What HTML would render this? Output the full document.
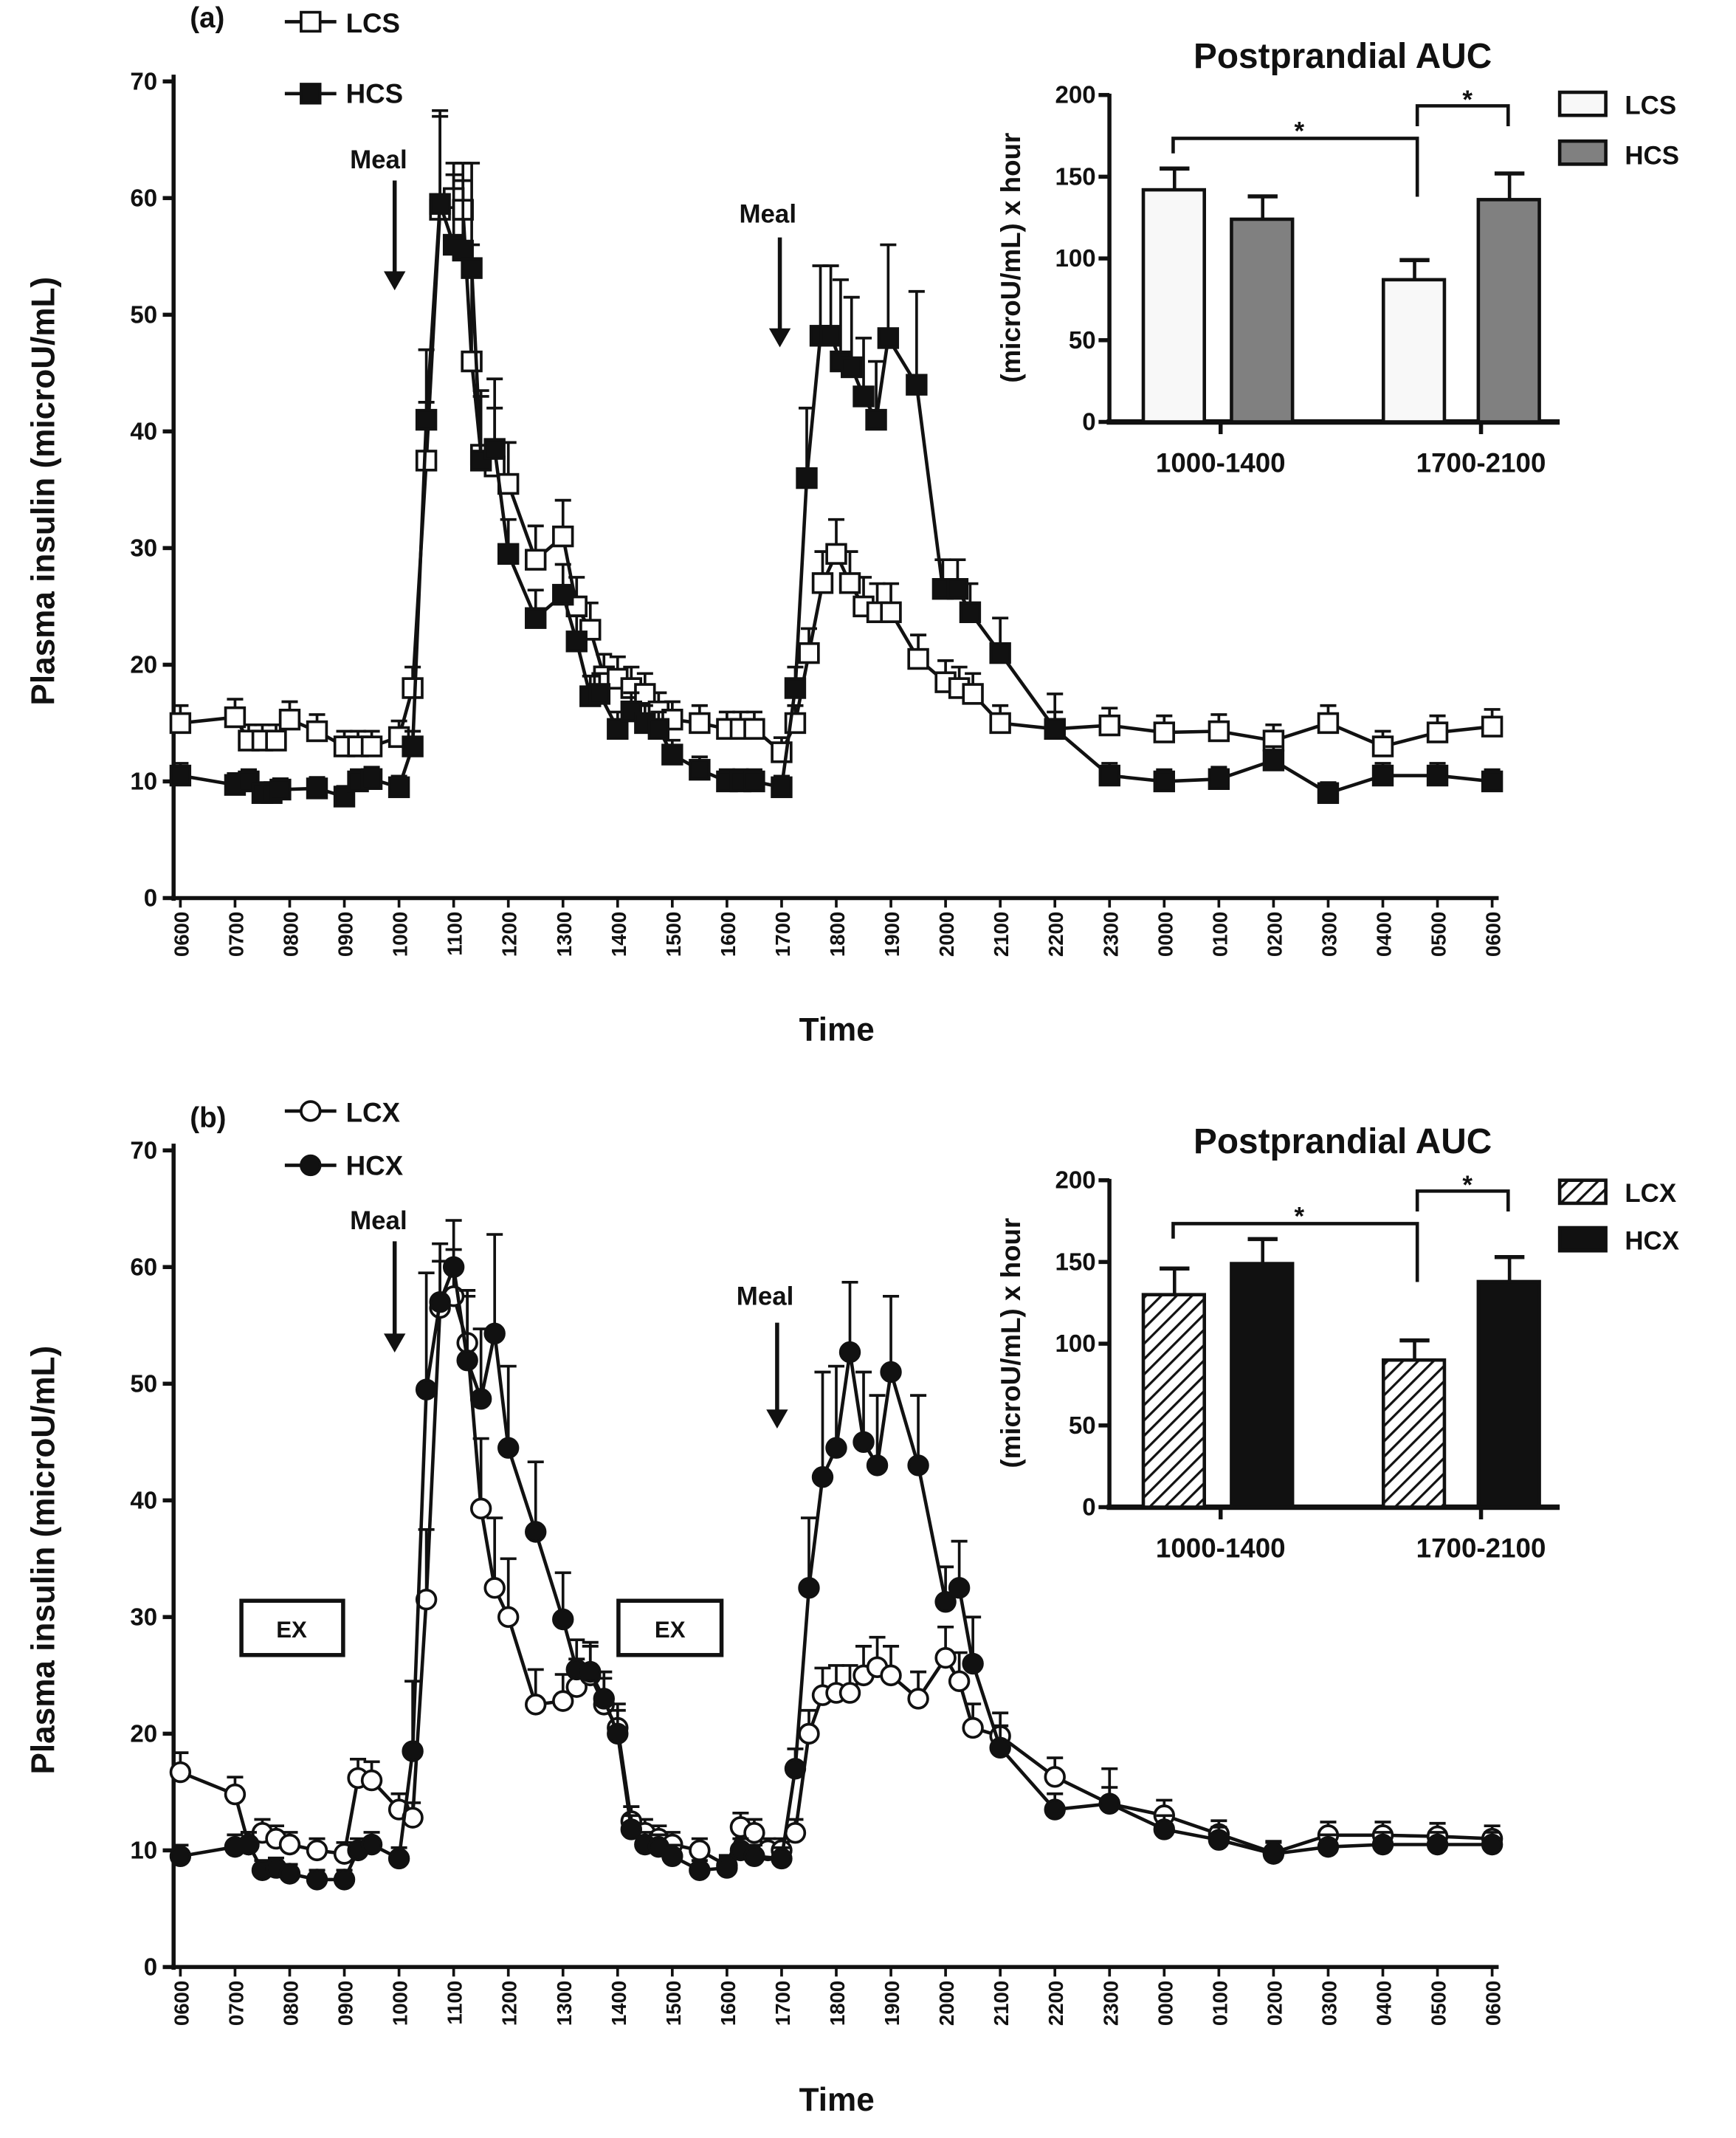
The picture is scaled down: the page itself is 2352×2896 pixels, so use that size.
<!DOCTYPE html>
<html><head><meta charset="utf-8"><style>
html,body{margin:0;padding:0;background:#fff}
svg{display:block}
text{font-family:"Liberation Sans",sans-serif;font-weight:bold;fill:#111}
</style></head><body>
<svg id="s" width="2352" height="2896" viewBox="0 0 1280 1576" xmlns="http://www.w3.org/2000/svg">
<rect width="1280" height="1576" fill="#fff"/>
<g id="g"></g>
<text x="140" y="20" font-size="21">(a)</text>
<text x="255" y="24" font-size="20">LCS</text>
<text x="255" y="76" font-size="20">HCS</text>
<text x="258" y="124" font-size="19">Meal</text>
<text x="545" y="164" font-size="19">Meal</text>
<text x="617" y="767" font-size="24" text-anchor="middle">Time</text>
<text transform="translate(40,362) rotate(-90)" font-size="24" text-anchor="middle">Plasma insulin (microU/mL)</text>
<text x="990" y="50" font-size="26" text-anchor="middle">Postprandial AUC</text>
<text transform="translate(752,190) rotate(-90)" font-size="20" text-anchor="middle">(microU/mL) x hour</text>
<text x="900" y="348" font-size="20" text-anchor="middle">1000-1400</text>
<text x="1092" y="348" font-size="20" text-anchor="middle">1700-2100</text>
<text x="1198" y="84" font-size="19">LCS</text>
<text x="1198" y="121" font-size="19">HCS</text>
<text x="958" y="103" font-size="19" text-anchor="middle">*</text>
<text x="1082" y="80" font-size="19" text-anchor="middle">*</text>
<text x="140" y="831" font-size="21">(b)</text>
<text x="255" y="827" font-size="20">LCX</text>
<text x="255" y="866" font-size="20">HCX</text>
<text x="258" y="906" font-size="19">Meal</text>
<text x="543" y="962" font-size="19">Meal</text>
<text x="617" y="1556" font-size="24" text-anchor="middle">Time</text>
<text transform="translate(40,1150) rotate(-90)" font-size="24" text-anchor="middle">Plasma insulin (microU/mL)</text>
<text x="990" y="850" font-size="26" text-anchor="middle">Postprandial AUC</text>
<text transform="translate(752,990) rotate(-90)" font-size="20" text-anchor="middle">(microU/mL) x hour</text>
<text x="900" y="1148" font-size="20" text-anchor="middle">1000-1400</text>
<text x="1092" y="1148" font-size="20" text-anchor="middle">1700-2100</text>
<text x="1198" y="886" font-size="19">LCX</text>
<text x="1198" y="921" font-size="19">HCX</text>
<text x="958" y="903" font-size="19" text-anchor="middle">*</text>
<text x="1082" y="880" font-size="19" text-anchor="middle">*</text>
<rect x="178" y="1180" width="75" height="40" fill="#fff" stroke="#111" stroke-width="3"/>
<text x="215" y="1207" font-size="17" text-anchor="middle">EX</text>
<rect x="456" y="1180" width="76" height="40" fill="#fff" stroke="#111" stroke-width="3"/>
<text x="494" y="1207" font-size="17" text-anchor="middle">EX</text>
<g id="ticks"></g>
</svg>
<script>
const NS="http://www.w3.org/2000/svg";const g=document.getElementById('g');const tk=document.getElementById('ticks');
function el(t,a,p){const e=document.createElementNS(NS,t);for(const k in a)e.setAttribute(k,a[k]);(p||g).appendChild(e);return e;}
const X=h=>133+40.3*(h-6);
function panel(y0,sA,sB,shape){
 const Y=v=>y0-8.6*v;
 el('line',{x1:128,y1:Y(0)+2,x2:128,y2:Y(70)-5,stroke:'#111','stroke-width':3});
 el('line',{x1:126,y1:Y(0),x2:1105,y2:Y(0),stroke:'#111','stroke-width':3});
 for(let v=0;v<=70;v+=10){el('line',{x1:120,y1:Y(v),x2:128,y2:Y(v),stroke:'#111','stroke-width':3});
  const t=el('text',{x:116,y:Y(v)+6,'font-size':18,'text-anchor':'end'},tk);t.textContent=v;}
 for(let h=6;h<=30;h++){const x=X(h);el('line',{x1:x,y1:Y(0),x2:x,y2:Y(0)+7,stroke:'#111','stroke-width':2});
  const hh=(h%24+24)%24;const s=(hh<10?'0':'')+hh+'00';
  const t=el('text',{transform:`translate(${x+6},${Y(0)+10}) rotate(-90)`,'font-size':15,'text-anchor':'end'},tk);t.textContent=s;}
 [[sA,false],[sB,true]].forEach(([d,fill])=>{
  const pts=d.map(p=>X(p[0])+','+Y(p[1])).join(' ');
  el('polyline',{points:pts,fill:'none',stroke:'#111','stroke-width':2.5});
  d.forEach(p=>{const x=X(p[0]),y=Y(p[1]);const e=p[2]!==undefined?p[2]:Math.max(0.8,p[1]*0.1);
   el('line',{x1:x,y1:y,x2:x,y2:Y(p[1]+e),stroke:'#111','stroke-width':2});
   el('line',{x1:x-6,y1:Y(p[1]+e),x2:x+6,y2:Y(p[1]+e),stroke:'#111','stroke-width':2});});
  d.forEach(p=>{const x=X(p[0]),y=Y(p[1]);
   if(shape=='sq')el('rect',{x:x-7,y:y-7,width:14,height:14,fill:fill?'#111':'#fff',stroke:'#111','stroke-width':2});
   else el('circle',{cx:x,cy:y,r:7,fill:fill?'#111':'#fff',stroke:'#111','stroke-width':2});});
 });
}
const LCS=[[6,15],[7,15.5],[7.25,13.5],[7.5,13.5],[7.75,13.5],[8,15.3],[8.5,14.3],[9,13],[9.25,13],[9.5,13],[10,13.8],[10.25,18],[10.5,37.5,5],[10.75,59,8],[11,60,2],[11.17,59,4],[11.33,46,10],[11.5,38,5],[11.75,37,5],[12,35.5],[12.5,29],[13,31],[13.25,25],[13.5,23],[13.75,19],[14,18.8],[14.25,18],[14.5,17.5],[14.75,16],[15,15.3],[15.5,15],[16,14.5],[16.25,14.5],[16.5,14.5],[17,12.5],[17.25,15],[17.5,21],[17.75,27],[18,29.5],[18.25,27],[18.5,25],[18.75,24.5],[19,24.5],[19.5,20.5],[20,18.5],[20.25,18],[20.5,17.5],[21,15],[22,14.5],[23,14.8],[24,14.2],[25,14.3],[26,13.5],[27,15],[28,13],[29,14.2],[30,14.7]];
const HCS=[[6,10.5],[7,9.7],[7.25,10],[7.5,9],[7.67,9],[7.83,9.3],[8.5,9.4],[9,8.7],[9.25,10],[9.5,10.2],[10,9.5],[10.25,13],[10.5,41,6],[10.75,59.5,8],[11,56,7],[11.17,55.5,6],[11.33,54,9],[11.5,37.5,6],[11.75,38.5,6],[12,29.5],[12.5,24],[13,26],[13.25,22],[13.5,17.3],[13.67,17.5],[14,14.5],[14.25,16],[14.5,15],[14.75,14.5],[15,12.3],[15.5,11],[16,10],[16.25,10],[16.5,10],[17,9.5],[17.25,18],[17.46,36,6],[17.71,48.2,6],[17.9,48.2,6],[18.08,46,7],[18.28,45.5,6],[18.5,43,5],[18.73,41,5],[18.95,48,8],[19.47,44,8],[19.95,26.5,2.5],[20.22,26.5,2.5],[20.45,24.5],[21,21,3],[22,14.5,3],[23,10.5],[24,10],[25,10.2],[26,11.8],[27,9],[28,10.5],[29,10.5],[30,10]];
panel(662,LCS,HCS,'sq');
const LCX=[[6,16.7],[7,14.8],[7.25,10.5],[7.5,11.5],[7.75,11],[8,10.5],[8.5,10],[9,9.7],[9.25,16.2],[9.5,16],[10,13.5],[10.25,12.8],[10.5,31.5,6],[10.75,56.5,4],[11,57.5,4],[11.25,53.5,4],[11.5,39.3,6],[11.75,32.5,6],[12,30,5],[12.5,22.5,3],[13,22.8],[13.25,24],[13.5,25],[13.75,22.5],[14,20.5],[14.25,12.5],[14.5,11.5],[14.75,11],[15,10.5],[15.5,10],[16,8.7],[16.25,12],[16.5,11.5],[16.75,10],[17,10],[17.25,11.5],[17.5,20],[17.75,23.3],[18,23.5],[18.25,23.5],[18.5,25],[18.75,25.7],[19,25],[19.5,23],[20,26.5],[20.25,24.5],[20.5,20.5],[21,19.8],[22,16.3],[23,14],[24,13],[25,11.4],[26,9.8],[27,11.3],[28,11.3],[29,11.2],[30,11]];
const HCX=[[6,9.5],[7,10.3],[7.25,10.5],[7.5,8.3],[7.75,8.5],[8,8],[8.5,7.5],[9,7.5],[9.25,10],[9.5,10.5],[10,9.3],[10.25,18.5,6],[10.5,49.5,10],[10.75,57,5],[11,60,4],[11.25,52,6],[11.5,48.7,6],[11.75,54.3,8.5],[12,44.5,7],[12.5,37.3,6],[13,29.8,4],[13.25,25.5],[13.5,25.3],[13.75,23],[14,20],[14.25,11.8],[14.5,10.5],[14.75,10.3],[15,9.5],[15.5,8.3],[16,8.5],[16.25,10],[16.5,9.5],[17,9.3],[17.25,17],[17.5,32.5,6],[17.75,42,9],[18,44.5,7],[18.25,52.7,6],[18.5,45,6],[18.75,43,6],[19,51,6.5],[19.5,43,6],[20,31.3,3],[20.25,32.5,4],[20.5,26,4],[21,18.8],[22,13.5],[23,14,3],[24,11.8],[25,10.9],[26,9.7],[27,10.3],[28,10.5],[29,10.5],[30,10.5]];
panel(1450,LCX,HCX,'ci');
function leg(y,shape,fill){el('line',{x1:210,y1:y,x2:248,y2:y,stroke:'#111','stroke-width':2.5});
 if(shape=='sq')el('rect',{x:222,y:y-7,width:14,height:14,fill:fill?'#111':'#fff',stroke:'#111','stroke-width':2});
 else el('circle',{cx:229,cy:y,r:7,fill:fill?'#111':'#fff',stroke:'#111','stroke-width':2});}
leg(16,'sq',0);leg(69,'sq',1);leg(819,'ci',0);leg(859,'ci',1);
function arrow(x,y1,y2){el('line',{x1:x,y1:y1,x2:x,y2:y2-8,stroke:'#111','stroke-width':3});
 el('polygon',{points:`${x-8},${y2-14} ${x+8},${y2-14} ${x},${y2}`,fill:'#111'});}
arrow(291,133,214);arrow(575,175,256);arrow(291,915,997);arrow(573,975,1053);
const defs=el('defs',{});const pat=el('pattern',{id:'hat',width:8,height:8,patternUnits:'userSpaceOnUse',patternTransform:'rotate(45)'},defs);
el('rect',{width:8,height:8,fill:'#fff'},pat);el('line',{x1:0,y1:0,x2:0,y2:8,stroke:'#111','stroke-width':3.5},pat);
function inset(y0,vals,errs,fA,fB,br){
 const Y=v=>y0-1.205*v;
 el('line',{x1:818,y1:Y(0),x2:818,y2:Y(200)-1,stroke:'#111','stroke-width':3});
 el('line',{x1:816,y1:Y(0),x2:1150,y2:Y(0),stroke:'#111','stroke-width':4});
 for(let v=0;v<=200;v+=50){el('line',{x1:810,y1:Y(v),x2:818,y2:Y(v),stroke:'#111','stroke-width':3});
  const t=el('text',{x:808,y:Y(v)+6,'font-size':18,'text-anchor':'end'},tk);t.textContent=v;}
 el('line',{x1:900,y1:Y(0),x2:900,y2:Y(0)+9,stroke:'#111','stroke-width':3});
 el('line',{x1:1092,y1:Y(0),x2:1092,y2:Y(0)+9,stroke:'#111','stroke-width':3});
 const xs=[843,908,1020,1090],f=[fA,fB,fA,fB];
 xs.forEach((x,i)=>{const v=vals[i],e=errs[i];
  el('line',{x1:x+23,y1:Y(v),x2:x+23,y2:Y(v+e),stroke:'#111','stroke-width':2.5});
  el('line',{x1:x+12,y1:Y(v+e),x2:x+34,y2:Y(v+e),stroke:'#111','stroke-width':3});
  el('rect',{x:x,y:Y(v),width:45,height:1.205*v,fill:f[i],stroke:'#111','stroke-width':2.5});});
 el('polyline',{points:`865,${br[0]} 865,${br[1]} 1045,${br[1]} 1045,${br[2]}`,fill:'none',stroke:'#111','stroke-width':2.5});
 el('polyline',{points:`1045,${br[3]} 1045,${br[4]} 1112,${br[4]} 1112,${br[5]}`,fill:'none',stroke:'#111','stroke-width':2.5});
}
inset(311,[142,124,87,136],[13,14,12,16],'#f8f8f8','#808080',[113,102,145,93,78,93]);
inset(1111,[130,149,90,138],[16,15,12,15],'url(#hat)','#111',[913,902,945,893,878,893]);
el('rect',{x:1150,y:68,width:34,height:17,fill:'#f8f8f8',stroke:'#111','stroke-width':2.5});
el('rect',{x:1150,y:104,width:34,height:17,fill:'#808080',stroke:'#111','stroke-width':2.5});
el('rect',{x:1150,y:870,width:34,height:17,fill:'url(#hat)',stroke:'#111','stroke-width':2.5});
el('rect',{x:1150,y:905,width:34,height:17,fill:'#111',stroke:'#111','stroke-width':2.5});
</script>
</body></html>
